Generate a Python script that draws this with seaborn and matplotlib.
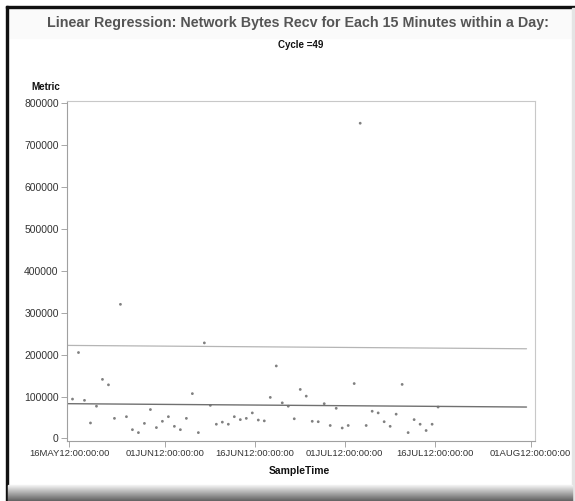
import pandas as pd
import numpy as np
import matplotlib
matplotlib.use("Agg")
import matplotlib.pyplot as plt
from matplotlib.patches import Rectangle
import seaborn as sns

# daily samples starting 16MAY2012
sample_start = "2012-05-16 14:00"
metric = [94000, 205000, 91000, 37000, 77000, 141000, 128000, 48000, 320000, 52000,
          21000, 14000, 36000, 69000, 26000, 41000, 52000, 29000, 21000, 48000,
          107000, 14000, 228000, 79000, 34000, 39000, 34000, 52000, 45000, 48000,
          61000, 44000, 42000, 98000, 173000, 85000, 77000, 47000, 117000, 101000,
          41000, 40000, 83000, 31000, 72000, 25000, 31000, 131000, 752000, 31000,
          65000, 61000, 40000, 29000, 58000, 129000, 14000, 45000, 34000, 19000,
          34000, 75000]

# regression line and upper limit
line_x = ["2012-05-15 20:00", "2012-07-31 08:00"]
fit_y = [83000, 75000]
upper_y = [222000, 214000]

tick_dates = ["2012-05-16", "2012-06-01", "2012-06-16", "2012-07-01", "2012-07-16", "2012-08-01"]
tick_labels = ["16MAY12:00:00:00", "01JUN12:00:00:00", "16JUN12:00:00:00",
               "01JUL12:00:00:00", "16JUL12:00:00:00", "01AUG12:00:00:00"]
y_ticks = [0, 100000, 200000, 300000, 400000, 500000, 600000, 700000, 800000]

df = pd.DataFrame({"SampleTime": pd.date_range(sample_start, periods=len(metric), freq="D"),
                   "Metric": metric})
lines = pd.DataFrame({"x": pd.to_datetime(line_x), "fit": fit_y, "upper": upper_y})

sns.set_style("white")
plt.rcParams["font.family"] = ["Liberation Sans", "DejaVu Sans"]

fig = plt.figure(figsize=(5.75, 5.01), dpi=100)
fig.patch.set_facecolor("white")
ax = fig.add_axes([67 / 575, 1 - 441 / 501, (535 - 67) / 575, (441 - 101) / 501])

sns.lineplot(data=lines, x="x", y="upper", color="#b5b5b5", linewidth=0.9, ax=ax)
sns.lineplot(data=lines, x="x", y="fit", color="#707070", linewidth=1.0, ax=ax)
sns.scatterplot(data=df, x="SampleTime", y="Metric", color="#808080", s=4,
                edgecolor="none", ax=ax)

ax.set_ylim(-6000, 805000)
ax.set_xlim(pd.Timestamp("2012-05-15 16:00"), pd.Timestamp("2012-08-01 18:00"))
ax.set_yticks(y_ticks)
ax.set_yticklabels([str(v) for v in y_ticks])
ax.set_xticks(pd.to_datetime(tick_dates))
ax.set_xticklabels(tick_labels)
ax.tick_params(axis="both", colors="#333333", length=4, width=0.6,
               direction="out", bottom=True, left=True, pad=2)
ax.tick_params(axis="x", labelsize=6.8)
ax.tick_params(axis="y", labelsize=7.5)
ax.tick_params(axis="both", color="#999999")
for s in ax.spines.values():
    s.set_color("#c8c8c8")
    s.set_linewidth(0.8)
ax.spines["left"].set_color("#a0a0a0")
ax.spines["bottom"].set_color("#a0a0a0")
ax.set_xlabel("")
ax.set_ylabel("")

fig.text(0.055, 1 - 87 / 501, "Metric", fontsize=7, fontweight="bold", color="#111111",
         ha="left", va="center")
fig.text(299 / 575, 1 - 471 / 501, "SampleTime", fontsize=7.5, fontweight="bold",
         color="#111111", ha="center", va="center")
fig.text(298 / 575, 1 - 23 / 501,
         "Linear Regression: Network Bytes Recv for Each 15 Minutes within a Day:",
         fontsize=10.3, fontweight="bold", color="#555555", ha="center", va="center")
fig.text(301 / 575, 1 - 45 / 501, "Cycle =49", fontsize=7, fontweight="bold",
         color="#111111", ha="center", va="center")

# screenshot frame
fig.patches.append(Rectangle((8 / 575, 1 - 38 / 501), 563 / 575, 31 / 501,
                             transform=fig.transFigure, color="#fafafa", zorder=-2))
fig.patches.append(Rectangle((0, 1 - 7 / 501), 1, 7 / 501, transform=fig.transFigure,
                             color="white", zorder=0))
fig.patches.append(Rectangle((6 / 575, 1 - 8 / 501), 569 / 575, 2 / 501,
                             transform=fig.transFigure, color="#111111", zorder=1))
fig.patches.append(Rectangle((6 / 575, 0), 2 / 575, 1 - 6 / 501,
                             transform=fig.transFigure, color="#111111", zorder=1))
fig.patches.append(Rectangle((572 / 575, 0), 3 / 575, 1 - 8 / 501,
                             transform=fig.transFigure, color="#e4e4e4", zorder=1))
shade = np.linspace(0, 1, 16)
for i, t in enumerate(shade):
    g = 0.95 - 0.55 * t
    fig.patches.append(Rectangle((8 / 575, (15 - i) / 501), 564 / 575, 1 / 501,
                                 transform=fig.transFigure, color=(g, g, g), zorder=1))

fig.savefig("out.png", dpi=100)
